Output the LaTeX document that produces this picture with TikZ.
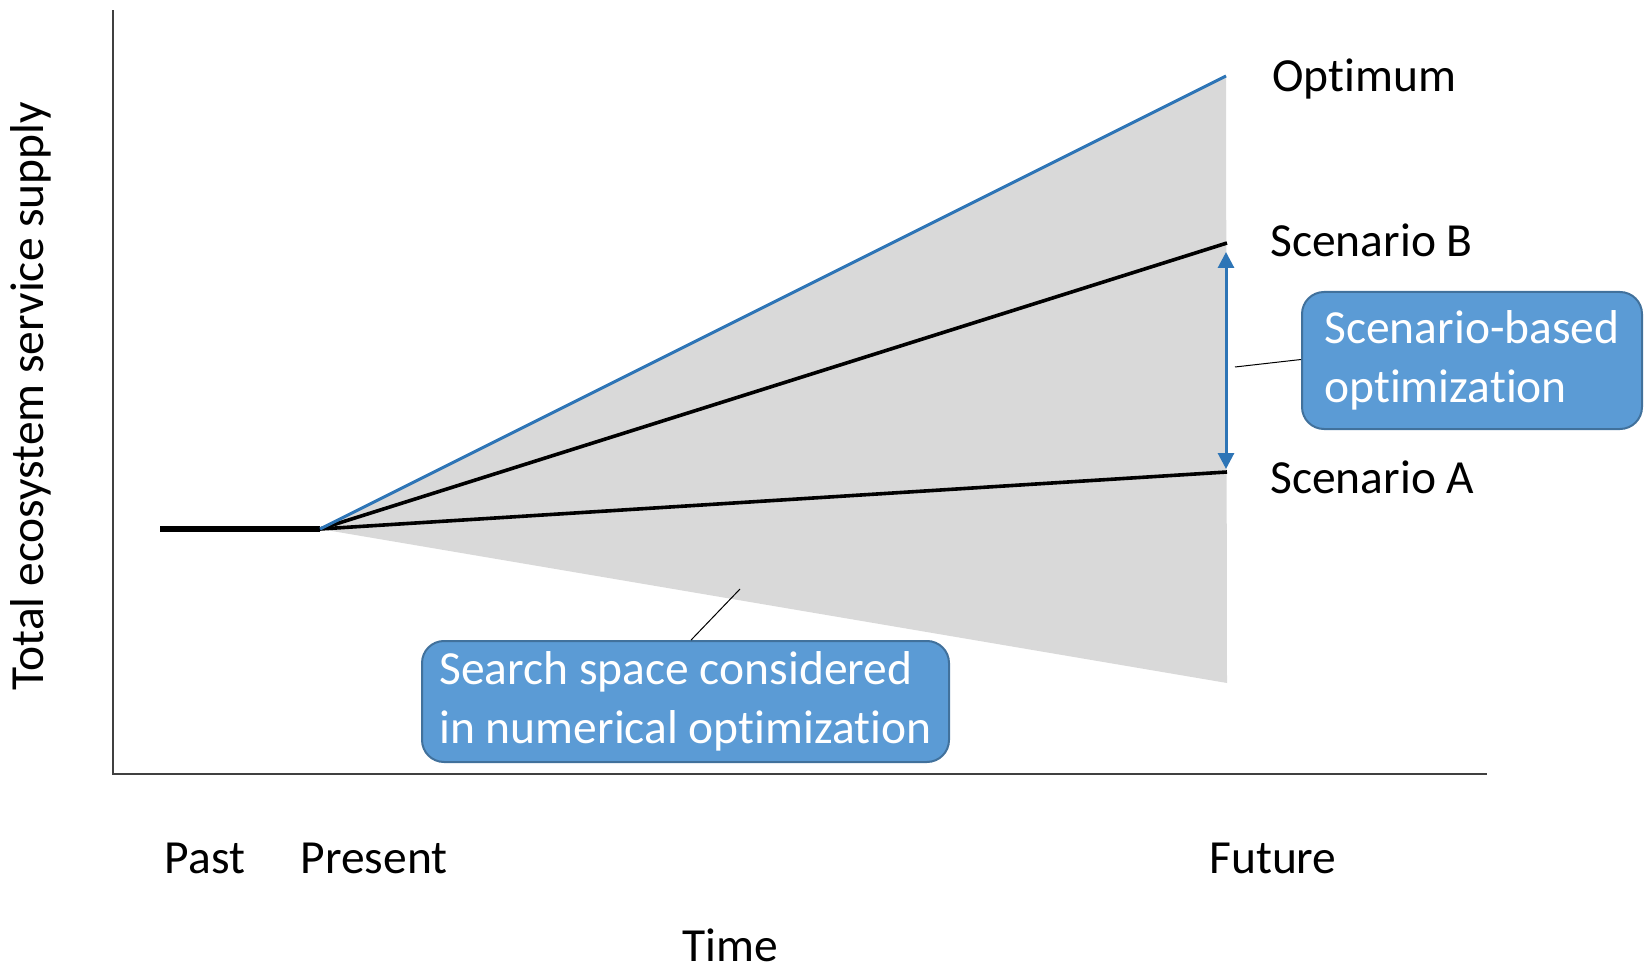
\documentclass[tikz,border=0pt]{standalone}
\usepackage{fontspec}
\setmainfont{Carlito}[Ligatures=NoCommon]
\usetikzlibrary{arrows.meta,calc}
\definecolor{optblue}{HTML}{2E75B6}
\definecolor{boxfill}{HTML}{5B9BD5}
\definecolor{boxedge}{HTML}{41719C}
\definecolor{spacegrey}{HTML}{D9D9D9}
\tikzset{
  axisline/.style={draw=black!75, line width=1pt},
  trendline/.style={draw=black, line width=1.8pt},
  optline/.style={draw=optblue, line width=1.5pt},
  rangearrow/.style={draw=optblue, line width=1.5pt,
    {Triangle[length=8pt,width=8pt]}-{Triangle[length=8pt,width=8pt]}},
  leader/.style={draw=black, line width=0.5pt},
  label/.style={font=\fontsize{23.75pt}{28.5pt}\selectfont, inner sep=0pt},
  calloutbox/.style={draw=boxedge, line width=1pt, fill=boxfill,
    rounded corners=11pt, text=white, align=left, inner sep=0pt,
    font=\fontsize{23.75pt}{29.5pt}\selectfont}
}
\begin{document}
\begin{tikzpicture}[x=0.5pt,y=-0.5pt]
\useasboundingbox (0,0) rectangle (1650,973);

% key points of the trajectories
\coordinate (past) at (160,529);
\coordinate (P) at (320,529);
\coordinate (O) at (1226,76);
\coordinate (B) at (1227,243);
\coordinate (A) at (1227,472);
\coordinate (low) at (1227,683);

% search space
\fill[spacegrey] (P) -- (O) -- (low) -- cycle;

% axes
\coordinate (ytop) at (112.6,10.5);
\coordinate (origin) at (112.6,773.5);
\coordinate (xend) at (1487,773.5);
\draw[axisline] (ytop) -- (origin) -- (xend);

% trajectories
\draw[trendline, line width=3pt] (past) -- (P);
\draw[trendline] (P) -- (A);
\draw[trendline] (P) -- (B);
\draw[optline] (P) -- (O);

% range between scenarios
\draw[rangearrow, shorten <=4.5pt, shorten >=1.5pt] ([xshift=-0.5pt]B) -- ([xshift=-0.5pt]A);

% end labels
\node[label, anchor=base west] (optlab) at (1272,92) {Optimum};
\node[label, anchor=base west] (blab) at (1270,257) {Scenario B};
\node[label, anchor=base west] (alab) at (1270,493) {Scenario A};

% callouts
\node[calloutbox, minimum width=170pt, minimum height=68.5pt] (sbo) at (1472,360.5)
  {Scenario-based\\optimization};
\node[calloutbox, minimum width=263.5pt, minimum height=60.5pt] (ssn) at (685.5,701.5)
  {Search space considered\\in numerical optimization};
\coordinate (sbotip) at (1235,367);
\coordinate (ssntip) at (740,589);
\draw[leader] (sbotip) -- ([yshift=0.5pt]sbo.west);
\draw[leader] (ssntip) -- ([xshift=2.8pt]ssn.north);

% time axis labels
\node[label, anchor=base] (pastlab) at (205,873) {Past};
\node[label, anchor=base] (preslab) at (374,873) {Present};
\node[label, anchor=base] (futlab) at (1273,873) {Future};
\node[label, anchor=base] (timelab) at (730,961) {Time};
\node[label, anchor=base, rotate=90] (ylab) at (43,396) {Total ecosystem service supply};
\end{tikzpicture}
\end{document}
